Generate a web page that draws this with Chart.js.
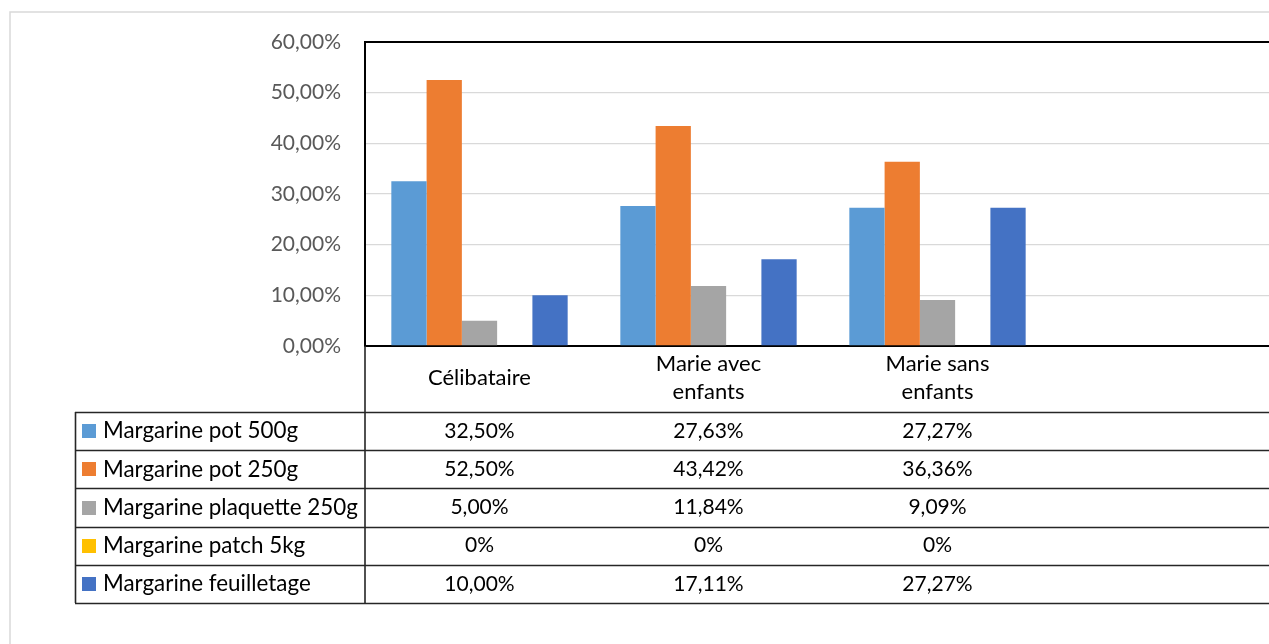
<!DOCTYPE html>
<html>
<head>
<meta charset="utf-8">
<script src="https://cdn.jsdelivr.net/npm/chart.js@4/dist/chart.umd.min.js"></script>
<style>
  html, body { margin: 0; padding: 0; background: #fff; overflow: hidden; }
  #wrap { position: relative; width: 1300px; height: 644px; }
</style>
</head>
<body>
<div id="wrap"><canvas id="c"></canvas></div>
<script>
// ---- data ----
const categories = ['Célibataire', ['Marie avec', 'enfants'], ['Marie sans', 'enfants'], ''];
const seriesNames = ['Margarine pot 500g', 'Margarine pot 250g', 'Margarine plaquette 250g', 'Margarine patch 5kg', 'Margarine feuilletage'];
const pot500 = [32.50, 27.63, 27.27, null];
const pot250 = [52.50, 43.42, 36.36, null];
const plaquette250 = [5.00, 11.84, 9.09, null];
const patch5kg = [0, 0, 0, null];
const feuilletage = [10.00, 17.11, 27.27, null];
const tableDecimals = [2, 2, 2, 0, 2];
const yTicks = [0, 10, 20, 30, 40, 50, 60];

const colors = ['#5B9BD5', '#ED7D31', '#A5A5A5', '#FFC000', '#4472C4'];
const FONT = 'Lato, "Liberation Sans", sans-serif';
const allSeries = [pot500, pot250, plaquette250, patch5kg, feuilletage];

function fmt(v, d) {
  return v.toFixed(d).replace('.', ',') + '%';
}

const frame = {
  id: 'frame',
  beforeDraw(chart) {
    const ctx = chart.ctx;
    ctx.save();
    ctx.strokeStyle = '#d9d9d9';
    ctx.lineWidth = 1.5;
    ctx.strokeRect(10, 12, chart.width + 50, chart.height + 50);
    ctx.restore();
  },
  afterDraw(chart) {
    const ctx = chart.ctx;
    const a = chart.chartArea;
    const xs = chart.scales.x;
    ctx.save();
    // plot area top border
    ctx.strokeStyle = '#000';
    ctx.lineWidth = 2;
    ctx.beginPath();
    ctx.moveTo(a.left - 1, a.top);
    ctx.lineTo(a.right, a.top);
    ctx.stroke();

    // data table
    const tTop = xs.bottom;
    const rowH = 38.2;
    const tLeft = 75;
    const nRows = seriesNames.length;
    ctx.strokeStyle = '#262626';
    ctx.lineWidth = 1.6;
    ctx.beginPath();
    for (let i = 0; i <= nRows; i++) {
      const y = Math.round(tTop + i * rowH) + 0.5;
      ctx.moveTo(tLeft, y);
      ctx.lineTo(a.right, y);
    }
    ctx.moveTo(tLeft + 0.5, tTop);
    ctx.lineTo(tLeft + 0.5, tTop + nRows * rowH);
    ctx.moveTo(a.left, a.bottom);
    ctx.lineTo(a.left, tTop + nRows * rowH);
    ctx.stroke();

    ctx.textBaseline = 'middle';
    for (let i = 0; i < nRows; i++) {
      const cy = tTop + (i + 0.5) * rowH;
      ctx.fillStyle = colors[i];
      ctx.fillRect(82, Math.round(cy - 7), 14, 14);
      ctx.fillStyle = '#000';
      ctx.textAlign = 'left';
      ctx.font = '22.4px ' + FONT;
      ctx.fillText(seriesNames[i], 103, cy);
      ctx.textAlign = 'center';
      ctx.font = '21px ' + FONT;
      allSeries[i].forEach((v, k) => {
        if (v === null) return;
        ctx.fillText(fmt(v, tableDecimals[i]), xs.getPixelForValue(k), cy);
      });
    }
    ctx.restore();
  }
};

new Chart(document.getElementById('c'), {
  type: 'bar',
  data: {
    labels: categories,
    datasets: seriesNames.map((n, i) => ({
      label: n,
      data: allSeries[i],
      backgroundColor: colors[i],
      borderWidth: 0
    }))
  },
  options: {
    responsive: true,
    maintainAspectRatio: false,
    animation: false,
    events: [],
    layout: { padding: { left: 0, top: 42, right: 19, bottom: 232 } },
    plugins: { legend: { display: false }, tooltip: { enabled: false } },
    datasets: { bar: { categoryPercentage: 0.77, barPercentage: 1.0 } },
    scales: {
      x: {
        grid: { display: false, drawTicks: false },
        border: { display: true, color: '#000', width: 2 },
        ticks: {
          color: '#000',
          font: { family: FONT, size: 22, lineHeight: 1.27 },
          padding: 18,
          maxRotation: 0,
          autoSkip: false,
          crossAlign: 'center'
        },
        afterFit(s) { s.height = 66; }
      },
      y: {
        min: 0, max: 60,
        afterBuildTicks(s) { s.ticks = yTicks.map(v => ({ value: v })); },
        grid: { color: '#d9d9d9', lineWidth: 1.3, drawTicks: false },
        border: { display: true, color: '#000', width: 2 },
        ticks: {
          color: '#595959',
          font: { family: FONT, size: 21 },
          padding: 24,
          callback: v => fmt(v, 2)
        },
        afterFit(s) { s.width = 365; }
      }
    }
  },
  plugins: [frame]
});
</script>
</body>
</html>
